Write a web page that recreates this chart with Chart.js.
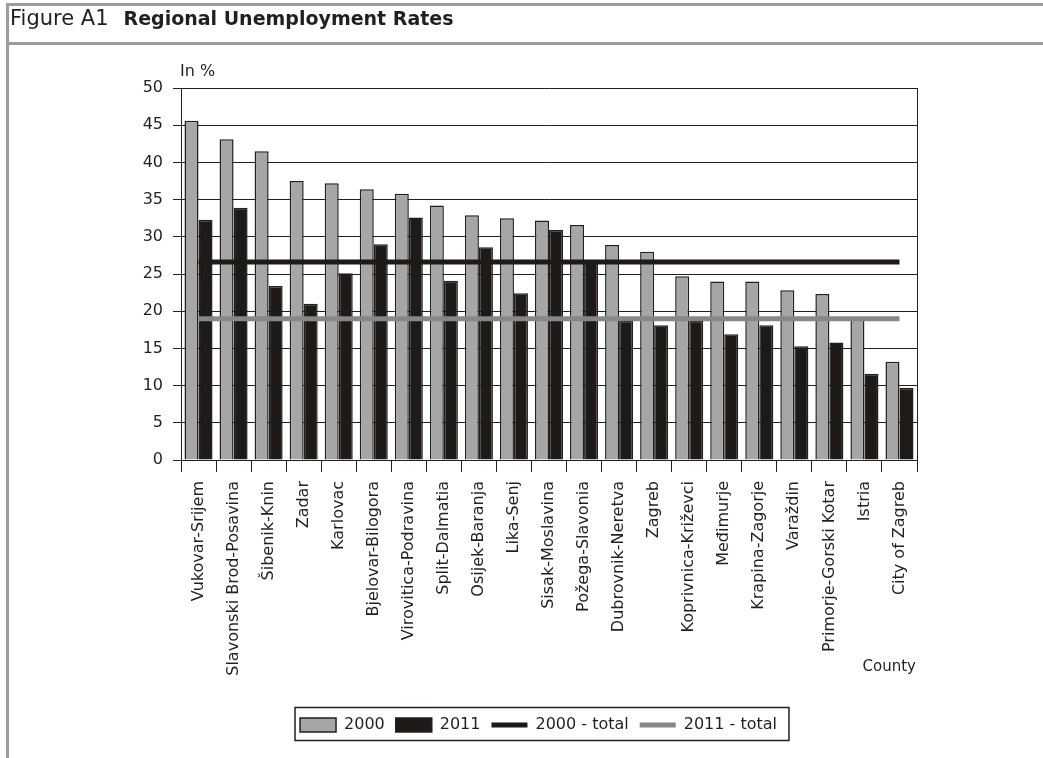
<!DOCTYPE html>
<html>
<head>
<meta charset="utf-8">
<title>Regional Unemployment Rates</title>
<script src="https://cdn.jsdelivr.net/npm/chart.js@4.4.0/dist/chart.umd.min.js"></script>
<style>
  body { margin: 0; background: #fff; width: 1043px; height: 758px; overflow: hidden; position: relative;
         font-family: "DejaVu Sans", sans-serif; color: #231f20; }
  #chart { position: absolute; left: 0; top: 0; }
  .rule { position: absolute; background: #9c9c9c; }
  #head { position: absolute; left: 10px; top: 6px; font-size: 21px; line-height: 24px; white-space: nowrap; }
  #head b { font-size: 19px; margin-left: 15px; }
</style>
</head>
<body>
<canvas id="chart" width="1043" height="758"></canvas>
<div class="rule" style="left:6px;top:3px;width:1037px;height:3px"></div>
<div class="rule" style="left:6px;top:42px;width:1037px;height:3px"></div>
<div class="rule" style="left:6px;top:3px;width:3px;height:755px"></div>
<div id="head">Figure A1<b>Regional Unemployment Rates</b></div>
<script>
// data
const counties = ['Vukovar-Srijem', 'Slavonski Brod-Posavina', 'Šibenik-Knin', 'Zadar', 'Karlovac',
  'Bjelovar-Bilogora', 'Virovitica-Podravina', 'Split-Dalmatia', 'Osijek-Baranja', 'Lika-Senj',
  'Sisak-Moslavina', 'Požega-Slavonia', 'Dubrovnik-Neretva', 'Zagreb', 'Koprivnica-Križevci',
  'Međimurje', 'Krapina-Zagorje', 'Varaždin', 'Primorje-Gorski Kotar', 'Istria', 'City of Zagreb']
const rates2000 = [45.6, 43.1, 41.5, 37.5, 37.2, 36.4, 35.8, 34.2, 32.9, 32.5, 32.2,
  31.6, 28.9, 28.0, 24.7, 24.0, 24.0, 22.8, 22.3, 19.1, 13.2]
const rates2011 = [32.3, 33.9, 23.4, 21.0, 25.1, 29.0, 32.6, 24.1, 28.6, 22.4, 30.9,
  26.8, 18.7, 18.1, 18.7, 16.9, 18.1, 15.3, 15.8, 11.6, 9.7]
const totals = [26.6, 19.0]   // national rate 2000, 2011
const seriesNames = ['2000', '2011', '2000 - total', '2011 - total']

const ink = '#231f1c'
const font = {family: 'DejaVu Sans', size: 16}

// total line spans first to last county
const totalLine = function (v) {
    return [{x: counties[0], y: v}, {x: counties[counties.length - 1], y: v}]
}

// legend frame and the two loose labels
const extras = {
    id: 'extras',
    afterDraw(chart) {
        const c = chart.ctx, a = chart.chartArea
        c.save()
        const hb = chart.legend.legendHitBoxes
        const last = hb[hb.length - 1]
        const lg = chart.legend
        c.strokeStyle = ink
        c.lineWidth = 1.5
        c.strokeRect(hb[0].left - 5, lg.top + 1.5, last.left + last.width + 12 - (hb[0].left - 5), 33)

        c.fillStyle = '#231f20'
        c.font = '16px "DejaVu Sans"'
        c.textBaseline = 'alphabetic'
        c.textAlign = 'left'
        c.fillText('In %', a.left - 1, 76)
        c.font = '15px "DejaVu Sans"'
        c.textAlign = 'right'
        c.fillText('County', a.right - 1, 671)
        c.restore()
    }
}

const ctx = document.getElementById('chart')
let myChart = new Chart(ctx, {
    type: 'bar',
    data: {
        labels: counties,
        datasets: [{
            label: seriesNames[0],
            data: rates2000,
            backgroundColor: '#a6a6a6',
            borderColor: ink,
            borderWidth: 1.5,
            order: 1
        }, {
            label: seriesNames[1],
            data: rates2011,
            backgroundColor: '#1e1a17',
            borderColor: ink,
            borderWidth: 1.5,
            order: 1
        }, {
            type: 'line',
            label: seriesNames[2],
            data: totalLine(totals[0]),
            borderColor: '#1e1a17',
            backgroundColor: '#1e1a17',
            borderWidth: 5,
            borderCapStyle: 'butt',
            pointRadius: 0,
            order: 0
        }, {
            type: 'line',
            label: seriesNames[3],
            data: totalLine(totals[1]),
            borderColor: '#878787',
            backgroundColor: '#878787',
            borderWidth: 5,
            borderCapStyle: 'butt',
            pointRadius: 0,
            order: 0
        }]
    },
    options: {
        responsive: false,
        animation: false,
        layout: {padding: {left: 137, right: 103, top: 88, bottom: 15}},
        datasets: {
            bar: {categoryPercentage: 0.8, barPercentage: 1.0}
        },
        scales: {
            x: {
                grid: {drawOnChartArea: false, offset: true, color: ink, tickLength: 12},
                border: {color: ink, width: 1},
                ticks: {
                    color: '#231f20', font: font, padding: 9,
                    minRotation: 90, maxRotation: 90, autoSkip: false
                },
                afterFit(scale) { scale.height = 246 }
            },
            y: {
                min: 0,
                max: 50,
                grid: {color: ink, tickLength: 8},
                border: {color: ink, width: 1},
                ticks: {stepSize: 5, color: '#231f20', font: font, padding: 10},
                afterFit(scale) { scale.width = 44 }
            },
            // empty axis, only its line is the plot's right border
            y2: {
                position: 'right',
                min: 0,
                max: 50,
                grid: {drawOnChartArea: false, drawTicks: false},
                border: {color: ink, width: 1},
                ticks: {display: false},
                afterFit(scale) { scale.width = 23 }
            }
        },
        plugins: {
            tooltip: {enabled: false},
            legend: {
                position: 'bottom',
                labels: {
                    color: '#231f20',
                    font: font,
                    usePointStyle: true,
                    pointStyleWidth: 36,
                    boxHeight: 14,
                    padding: 11,
                    generateLabels(chart) {
                        return chart.data.datasets.map((ds, i) => ({
                            text: ds.label,
                            fillStyle: ds.backgroundColor,
                            strokeStyle: ds.type === 'line' ? ds.borderColor : ink,
                            lineWidth: ds.type === 'line' ? 5 : 1.5,
                            pointStyle: ds.type === 'line' ? 'line' : 'rect',
                            fontColor: '#231f20',
                            hidden: false,
                            datasetIndex: i
                        }))
                    }
                }
            }
        }
    },
    plugins: [extras]
})
</script>
</body>
</html>
